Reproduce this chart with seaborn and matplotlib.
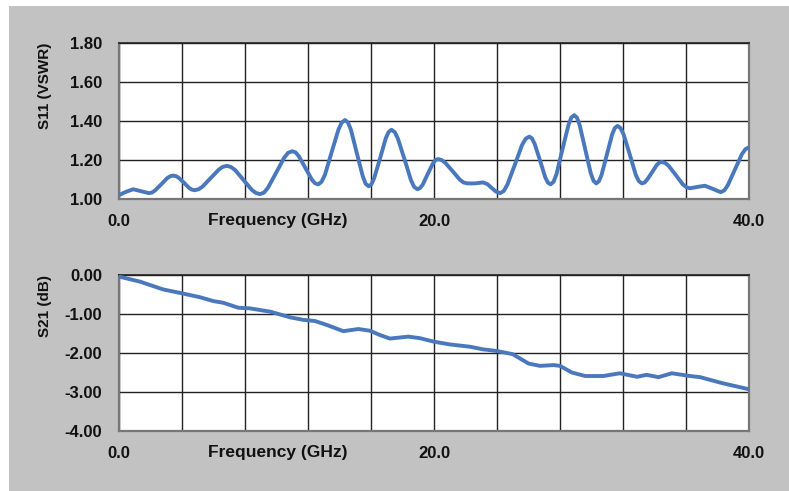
import pandas as pd
import matplotlib
matplotlib.use('Agg')
import matplotlib.pyplot as plt
from matplotlib.patches import Rectangle
from matplotlib.ticker import MultipleLocator
import seaborn as sns

# S11 (VSWR) readings (main points)
s11_freq = [0.0, 0.45, 0.9, 1.4, 1.9, 2.29, 2.68, 3.06, 3.45, 3.79, 4.13, 4.46, 4.8,
            5.31, 5.83, 6.34, 6.85, 7.38, 7.9, 8.43, 8.95, 9.46, 9.98, 10.49, 11.0,
            11.41, 11.83, 12.24, 12.65, 13.08, 13.5, 13.93, 14.35, 14.73, 15.1, 15.48,
            15.85, 16.21, 16.58, 16.94, 17.3, 17.71, 18.13, 18.54, 18.95, 19.28, 19.6,
            19.93, 20.25, 20.71, 21.18, 21.64, 22.1, 22.6, 23.1, 23.38, 23.65, 23.93,
            24.2, 24.66, 25.13, 25.59, 26.05, 26.39, 26.73, 27.06, 27.4, 27.78, 28.15,
            28.53, 28.9, 29.25, 29.6, 29.95, 30.3, 30.64, 30.98, 31.31, 31.65, 32.04,
            32.43, 32.81, 33.2, 33.51, 33.83, 34.14, 34.45, 34.9, 35.35, 35.8, 36.25,
            36.73, 37.2, 37.7, 38.2, 38.65, 39.1, 39.55, 40.0]
s11_vswr = [1.02, 1.037, 1.05, 1.04, 1.03, 1.044, 1.075, 1.107, 1.12, 1.109, 1.083, 1.056, 1.045,
            1.064, 1.108, 1.151, 1.17, 1.148, 1.098, 1.047, 1.025, 1.058, 1.135, 1.212, 1.245,
            1.22, 1.16, 1.1, 1.075, 1.125, 1.24, 1.355, 1.405, 1.354, 1.235, 1.116,
            1.065, 1.109, 1.21, 1.312, 1.355, 1.309, 1.203, 1.096, 1.05, 1.073, 1.128,
            1.182, 1.205, 1.186, 1.143, 1.099, 1.08, 1.08, 1.085, 1.077, 1.058, 1.038,
            1.03, 1.074, 1.175, 1.277, 1.32, 1.283, 1.198, 1.112, 1.075, 1.128, 1.253,
            1.377, 1.43, 1.378, 1.255, 1.133, 1.08, 1.124, 1.228, 1.331, 1.375, 1.331,
            1.228, 1.124, 1.08, 1.097, 1.135, 1.174, 1.19, 1.17, 1.123, 1.075, 1.055,
            1.062, 1.068, 1.052, 1.035, 1.07, 1.15, 1.23, 1.265]

# extra S11 readings close to the peaks and dips
s11_freq_near = [2.09, 3.26, 3.62, 4.63, 5.06, 6.59, 7.11, 8.69, 9.21, 10.74, 11.21, 12.44,
                 12.86, 14.14, 14.54, 15.66, 16.03, 17.12, 17.51, 18.74, 19.11, 20.09,
                 20.48, 21.87, 24.43, 25.82, 26.22, 27.23, 27.59, 28.71, 29.08, 30.13,
                 30.47, 31.48, 31.84, 33.01, 33.36, 34.29, 34.68, 36.03, 38.43, 39.78]
s11_vswr_near = [1.033, 1.117, 1.117, 1.048, 1.05, 1.165, 1.164, 1.031, 1.033, 1.237, 1.239,
                 1.081, 1.088, 1.392, 1.392, 1.078, 1.076, 1.344, 1.343, 1.062, 1.056, 1.199,
                 1.2, 1.085, 1.041, 1.309, 1.311, 1.084, 1.088, 1.417, 1.417, 1.093,
                 1.091, 1.364, 1.364, 1.091, 1.084, 1.186, 1.185, 1.06, 1.044, 1.256]

# S21 (dB) readings
s21_freq = [0.0, 1.33, 2.8, 4.0, 5.14, 6.0, 6.6, 7.58, 8.3, 9.6, 10.86, 11.7, 12.44, 13.19,
            14.24, 15.2, 15.94, 16.57, 17.2, 18.37, 19.1, 20.0, 21.0, 22.3, 23.1, 24.0,
            25.0, 26.0, 26.73, 27.6, 28.0, 28.75, 29.6, 30.75, 31.8, 32.9, 33.5, 34.25,
            35.1, 36.25, 36.9, 38.37, 40.0]
s21_db = [-0.04, -0.17, -0.37, -0.47, -0.57, -0.67, -0.71, -0.84, -0.855, -0.94, -1.085, -1.15,
          -1.18, -1.28, -1.44, -1.385, -1.43, -1.54, -1.63, -1.58, -1.62, -1.71, -1.78, -1.84,
          -1.905, -1.95, -2.03, -2.27, -2.33, -2.31, -2.33, -2.5, -2.59, -2.59, -2.52, -2.61,
          -2.56, -2.62, -2.52, -2.59, -2.62, -2.78, -2.93]

x_ticks = [0, 20, 40]
x_ticklabels = ['0.0', '20.0', '40.0']
s11_ticks = [1.0, 1.2, 1.4, 1.6, 1.8]
s21_ticks = [-4, -3, -2, -1, 0]

s11 = pd.DataFrame({'freq': s11_freq + s11_freq_near,
                    'val': s11_vswr + s11_vswr_near}).sort_values('freq')
s21 = pd.DataFrame({'freq': s21_freq, 'val': s21_db})

sns.set_theme(style='white')
plt.rcParams['font.family'] = ['Liberation Sans', 'DejaVu Sans']

W, H = 789, 491
fig = plt.figure(figsize=(W / 100, H / 100), dpi=100, facecolor='white')
fig.patches.append(Rectangle((9 / W, 0), 1, (H - 6) / H, transform=fig.transFigure,
                             facecolor='#c2c2c2', edgecolor='none', zorder=-10))

line_color = '#4a78bd'
left, width = 119 / W, 630 / W
panels = [
    (s11, 43, 199, (1.0, 1.8), s11_ticks, 'S11 (VSWR)'),
    (s21, 275, 431, (-4.0, 0.0), s21_ticks, 'S21 (dB)'),
]

for df, top_px, bot_px, ylim, yticks, ylabel in panels:
    ax = fig.add_axes([left, 1 - bot_px / H, width, (bot_px - top_px) / H])
    ax.set_facecolor('white')
    sns.lineplot(data=df, x='freq', y='val', ax=ax, color=line_color, lw=2.8,
                 sort=False, solid_joinstyle='round', solid_capstyle='round', zorder=5)
    ax.set_xlim(0, 40)
    ax.set_ylim(*ylim)
    ax.xaxis.set_minor_locator(MultipleLocator(4))
    ax.set_xticks(x_ticks)
    ax.set_xticklabels(x_ticklabels)
    ax.set_yticks(yticks)
    ax.set_yticklabels([f'{v:.2f}' for v in yticks])
    ax.grid(True, which='both', axis='x', color='#222222', lw=1.0)
    ax.grid(True, which='major', axis='y', color='#222222', lw=1.0)
    ax.tick_params(axis='both', which='both', length=0, labelsize=12, colors='#111111')
    ax.tick_params(axis='x', pad=11)
    ax.tick_params(axis='y', pad=12)
    for lab in ax.get_xticklabels() + ax.get_yticklabels():
        lab.set_fontweight('bold')
    for side in ['left', 'bottom', 'right']:
        ax.spines[side].set_color('#777777')
        ax.spines[side].set_linewidth(1.6)
    ax.spines['top'].set_color('#222222')
    ax.spines['top'].set_linewidth(1.2)

    ax.set_xlabel('Frequency (GHz)', fontsize=12.5, fontweight='bold', color='#111111')
    ax.xaxis.set_label_coords(0.252, -0.139)
    ax.xaxis.label.set_va('center')
    ax.set_ylabel(ylabel, fontsize=11, fontweight='bold', color='#111111')
    ax.yaxis.set_label_coords(-0.117, 1.0)
    ax.yaxis.label.set_ha('right')
    ax.yaxis.label.set_va('center')

fig.savefig('out.png', dpi=100, facecolor=fig.get_facecolor())
